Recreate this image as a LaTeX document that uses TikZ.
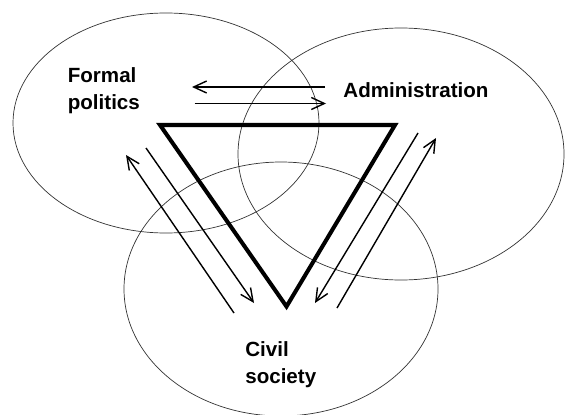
\documentclass[tikz,border=0pt]{standalone}
\usepackage{fontspec}
\setmainfont{Liberation Sans}
\usetikzlibrary{arrows.meta}

\tikzset{
  sphere/.style={draw=black!80,line width=0.4pt},
  flow/.style={draw,line width=0.8pt,-{Straight Barb[length=2.6mm,width=2.4mm,line width=0.8pt]}},
  label/.style={inner sep=0pt,align=left,font=\fontsize{11.7}{15.2}\selectfont\bfseries}
}

\begin{document}
\begin{tikzpicture}
\useasboundingbox (0,0) rectangle (11.3,8.28);

% the three spheres
\draw[sphere] (3.32,5.82) ellipse [x radius=3.06,y radius=2.2];
\draw[sphere] (8.02,5.2) ellipse [x radius=3.26,y radius=2.52];
\draw[sphere] (5.62,2.5) ellipse [x radius=3.14,y radius=2.54];

% the triangle
\draw[line width=2.3pt,line join=miter] (3.2,5.78)
  -- (7.9,5.78)
  -- (5.73,2.15)
  -- cycle;

\node[label,anchor=west] (politics) at (1.35,6.47) {Formal\\politics};
\node[label] (admin) at (8.32,6.48) {Administration};
\node[label,anchor=west] (civil) at (4.9,0.98) {Civil\\society};

% arrow ends
\coordinate (pa1) at (6.5,6.54);
\coordinate (pa2) at (3.84,6.54);
\coordinate (pa3) at (3.89,6.21);
\coordinate (pa4) at (6.52,6.21);
\coordinate (pc1) at (4.68,2.02);
\coordinate (pc2) at (2.52,5.18);
\coordinate (pc3) at (2.92,5.32);
\coordinate (pc4) at (5.08,2.22);
\coordinate (ac1) at (8.36,5.62);
\coordinate (ac2) at (6.3,2.22);
\coordinate (ac3) at (6.74,2.12);
\coordinate (ac4) at (8.72,5.52);

\draw[flow] (pa1) -- (pa2);
\draw[flow] (pa3) -- (pa4);
\draw[flow] (pc1) -- (pc2);
\draw[flow] (pc3) -- (pc4);
\draw[flow] (ac1) -- (ac2);
\draw[flow] (ac3) -- (ac4);
\end{tikzpicture}
\end{document}
